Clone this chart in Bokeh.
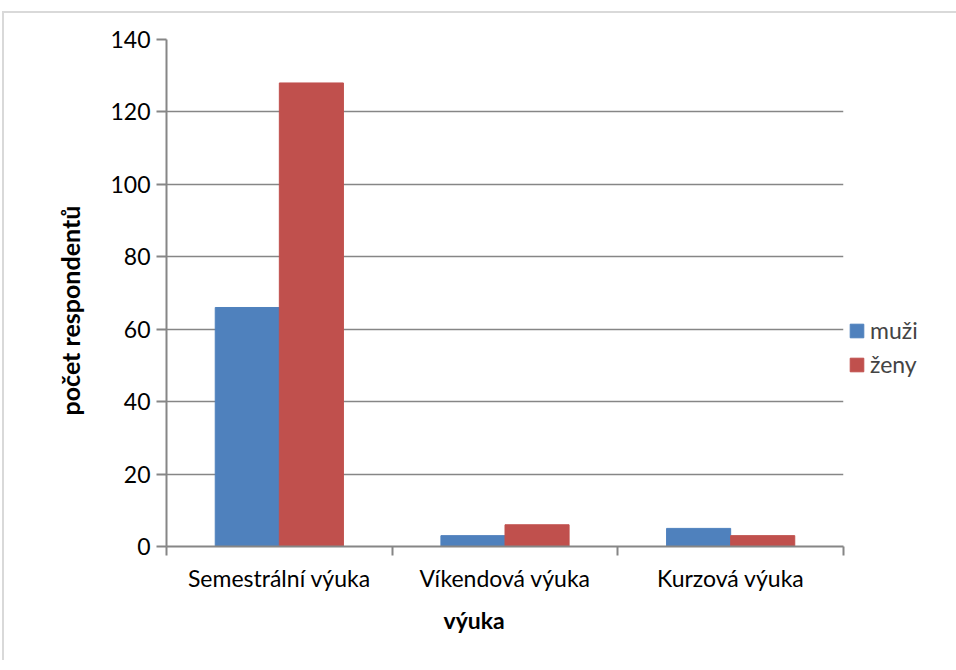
from bokeh.plotting import figure
from bokeh.models import Range1d, FixedTicker, Legend, LegendItem, Title
from bokeh.embed import file_html
from bokeh.resources import INLINE

categories = ["Semestrální výuka", "Víkendová výuka", "Kurzová výuka"]
muzi = [66, 3, 5]
zeny = [128, 6, 3]
y_ticks = [0, 20, 40, 60, 80, 100, 120, 140]
x_title = "výuka"
y_title = "počet respondentů"

FONT = "Lato"
GRID = "#868686"

p = figure(frame_width=677, frame_height=507, output_backend="svg", toolbar_location=None,
           x_range=Range1d(0, 3), y_range=Range1d(0, 140),
           min_border_left=162, min_border_right=104, min_border_top=26,
           min_border_bottom=114)
p.margin = (11, 0, 0, 2)
p.styles = {"border-left": "2px solid #d9d9d9", "border-top": "2px solid #d9d9d9"}
p.outline_line_color = None
p.background_fill_color = "white"
p.border_fill_color = "white"

centers = [i + 0.5 for i in range(len(categories))]
bw = 0.284
x_m = [c - bw / 2 for c in centers]
x_z = [c + bw / 2 for c in centers]
r1 = p.vbar(x=x_m, top=muzi, width=bw, fill_color="#4f81bd", line_color="#4f81bd")
r2 = p.vbar(x=x_z, top=zeny, width=bw, fill_color="#c0504d", line_color="#c0504d")

# x axis
xa = p.xaxis[0]
xa.ticker = FixedTicker(ticks=centers, minor_ticks=[0, 1, 2, 3])
xa.major_label_overrides = {c: lab for c, lab in zip(centers, categories)}
xa.major_tick_line_color = None
xa.minor_tick_line_color = GRID
xa.minor_tick_out = 9
xa.minor_tick_in = 0
xa.minor_tick_line_width = 2
xa.axis_line_color = GRID
xa.axis_line_width = 2
xa.major_label_text_font = FONT
xa.major_label_text_font_size = "23px"
xa.major_label_text_color = "black"
xa.major_label_standoff = 8

# y axis
ya = p.yaxis[0]
ya.ticker = FixedTicker(ticks=y_ticks, minor_ticks=[])
ya.major_tick_line_color = GRID
ya.major_tick_line_width = 2
ya.major_tick_out = 10
ya.major_tick_in = 0
ya.axis_line_color = GRID
ya.axis_line_width = 2
ya.major_label_text_font = FONT
ya.major_label_text_font_size = "23px"
ya.major_label_text_color = "black"
ya.major_label_standoff = 6

p.xgrid.grid_line_color = None
p.ygrid.ticker = FixedTicker(ticks=y_ticks)
p.ygrid.grid_line_color = GRID
p.ygrid.grid_line_width = 1.5

# axis titles placed as Titles so that they can be offset like the reference
xt = Title(text=x_title, align="left", offset=277, text_font=FONT,
           text_font_size="23px", text_font_style="bold", text_color="black",
           standoff=19)
p.add_layout(xt, "below")
yt = Title(text=y_title, align="left", offset=131, text_font=FONT,
           text_font_size="25px", text_font_style="bold", text_color="black",
           standoff=46)
p.add_layout(yt, "left")

legend = Legend(items=[LegendItem(label="muži", renderers=[r1]),
                       LegendItem(label="ženy", renderers=[r2])],
                location=(5, 168))
legend.border_line_color = None
legend.background_fill_alpha = 0
legend.label_text_font = FONT
legend.label_text_font_size = "23px"
legend.glyph_width = 17
legend.glyph_height = 17
legend.label_standoff = 5
legend.spacing = 6
legend.padding = 2
legend.margin = 0
p.add_layout(legend, "right")

open("out.html", "w").write(file_html(p, INLINE))
